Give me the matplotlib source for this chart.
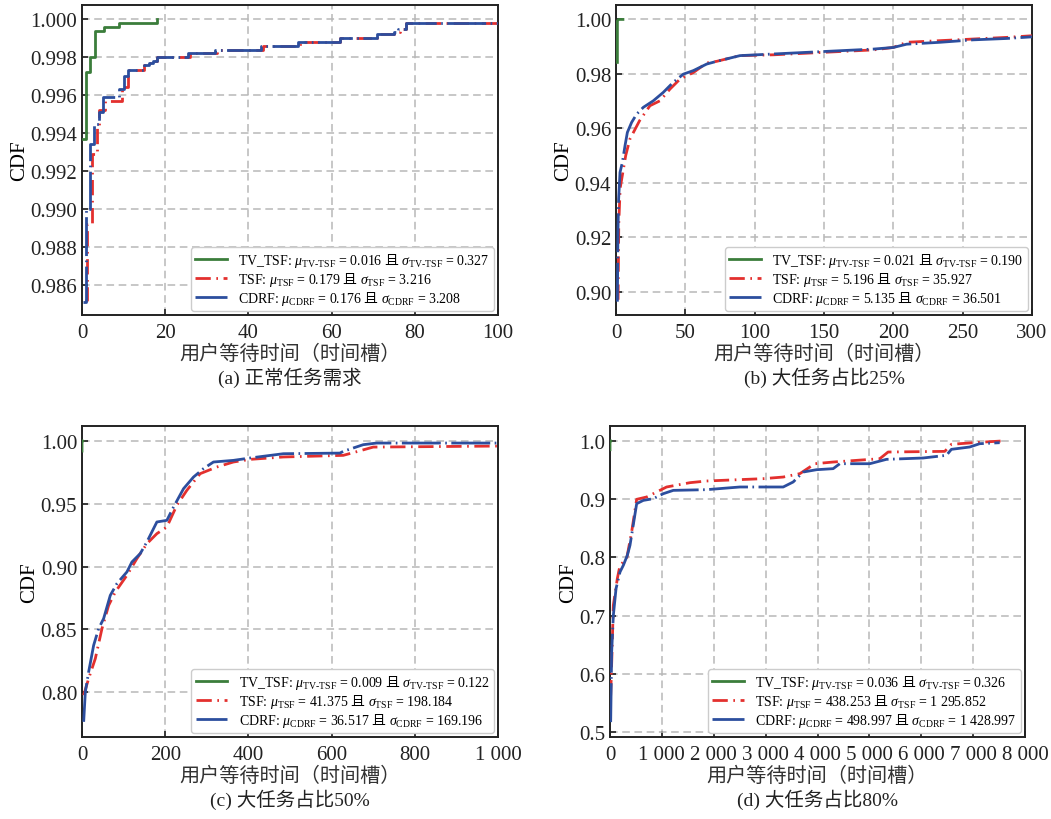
import matplotlib
matplotlib.use("Agg")
import matplotlib.pyplot as plt
from matplotlib.ticker import FuncFormatter

plt.rcParams['font.family'] = ['Liberation Serif', 'Noto Sans CJK SC']
# custom mathtext so the CJK conjunction can be typeset inside the legend labels
plt.rcParams['mathtext.fontset'] = 'custom'
plt.rcParams['mathtext.rm'] = 'Liberation Serif'
plt.rcParams['mathtext.it'] = 'Liberation Serif:italic'
plt.rcParams['mathtext.bf'] = 'Liberation Serif:bold'
plt.rcParams['mathtext.sf'] = 'Noto Sans CJK SC'
plt.rcParams['mathtext.fallback'] = 'stix'
plt.rcParams['axes.unicode_minus'] = False

GREEN = '#3b7d3b'
RED = '#e3302e'
BLUE = '#2c4e9e'

# (a) normal task demand -- step curves
a_tv_x = [0.2, 1, 2, 3.2, 5.2, 9, 18]
a_tv_y = [0.9937, 0.9972, 0.998, 0.9994, 0.9996, 0.9998, 1.0]
a_tsf_x = [0.7, 1.2, 2.5, 3.5, 4, 5.5, 9.5, 11, 15, 16, 17, 18, 26, 32.5, 43.5, 52.5, 62, 71, 75, 76.5, 78, 105]
a_tsf_y = [0.9852, 0.9892, 0.9929, 0.9944, 0.9952, 0.9957, 0.9964, 0.9973, 0.9976, 0.9977, 0.9978, 0.9980,
           0.9982, 0.9984, 0.9986, 0.9988, 0.9990, 0.9992, 0.9993, 0.9995, 0.9998, 0.9998]
a_cdrf_x = [0.3, 1, 2, 3, 4, 5, 9, 10, 11, 15, 16, 17, 18, 25.5, 32, 43, 52, 62, 71, 75, 76, 78, 105]
a_cdrf_y = [0.9851, 0.9900, 0.9934, 0.9945, 0.9951, 0.9959, 0.9963, 0.9970, 0.9973, 0.9976, 0.9977, 0.9978,
            0.9980, 0.9982, 0.9984, 0.9986, 0.9988, 0.9990, 0.9992, 0.9993, 0.9995, 0.9998, 0.9998]

# (b) 25% large tasks
b_tv_x = [1, 1, 2, 5]
b_tv_y = [0.9842, 0.9995, 1.0, 1.0]
b_tsf_x = [1.5, 2, 3, 5, 7, 10, 17, 24.5, 31.7, 38.9, 46.2, 55.8, 65.4, 72.6, 89.4, 113.5, 137.5, 161.5,
           185.6, 200, 209.6, 233.7, 257.7, 281.7, 300]
b_tsf_y = [0.897, 0.925, 0.938, 0.944, 0.950, 0.956, 0.9628, 0.9683, 0.9701, 0.9744, 0.9781, 0.9805, 0.9840,
           0.9846, 0.9867, 0.9870, 0.9876, 0.9882, 0.9888, 0.9897, 0.9916, 0.9922, 0.9928, 0.9934, 0.9940]
b_cdrf_x = [1, 1.4, 1.9, 2.9, 4.6, 6.5, 8.2, 11.3, 14.9, 19.7, 26.9, 34.1, 41.3, 48.6, 55.8, 65.4, 72.6,
            89.4, 113.5, 137.5, 161.5, 185.6, 200, 209.6, 233.7, 257.7, 281.7, 300]
b_cdrf_y = [0.8963, 0.9218, 0.934, 0.9438, 0.9475, 0.9536, 0.9585, 0.9622, 0.9652, 0.9677, 0.9701, 0.9732,
            0.9769, 0.9799, 0.9812, 0.9836, 0.9846, 0.9867, 0.9873, 0.9879, 0.9885, 0.9891, 0.9897, 0.9909,
            0.9916, 0.9925, 0.9930, 0.9936]

# (c) 50% large tasks
c_tv_x = [0, 0, 2]
c_tv_y = [0.992, 0.999, 1.0]
c_tsf_x = [4, 16, 32, 48, 64, 80, 108, 132, 156, 180, 204, 228, 252, 284, 324, 364, 404, 484, 628, 672,
           700, 1000]
c_tsf_y = [0.7974, 0.8107, 0.8266, 0.8505, 0.869, 0.8797, 0.893, 0.9063, 0.9182, 0.9262, 0.9315, 0.9488,
           0.9607, 0.974, 0.9793, 0.9833, 0.9854, 0.9873, 0.9886, 0.9926, 0.9952, 0.996]
c_cdrf_x = [4, 8, 16, 28, 40, 52, 68, 84, 108, 120, 140, 156, 180, 204, 220, 244, 268, 292, 316, 364, 404,
            484, 620, 628, 676, 708, 1000]
c_cdrf_y = [0.7762, 0.8001, 0.816, 0.8372, 0.8505, 0.8585, 0.877, 0.8864, 0.8957, 0.9036, 0.9103, 0.9196,
            0.9355, 0.9368, 0.9474, 0.962, 0.9713, 0.978, 0.9833, 0.9846, 0.9865, 0.9899, 0.9904, 0.9918,
            0.9971, 0.9984, 0.9984]

# (d) 80% large tasks
d_tv_x = [0, 0, 15]
d_tv_y = [0.985, 0.999, 1.0]
d_tsf_x = [13, 39, 64, 141, 193, 321, 417, 514, 706, 899, 1091, 1541, 1862, 2953, 3339, 3660, 3949, 4302,
           5201, 5361, 6453, 6581, 6998, 7544]
d_tsf_y = [0.563, 0.6375, 0.7176, 0.7635, 0.7864, 0.7978, 0.8436, 0.8998, 0.9038, 0.9124, 0.921, 0.9284,
           0.9313, 0.9353, 0.9381, 0.9439, 0.961, 0.9639, 0.9696, 0.9811, 0.9822, 0.9943, 0.9971, 1.0]
d_cdrf_x = [13, 32, 64, 116, 193, 257, 334, 385, 437, 514, 642, 835, 1027, 1220, 1862, 2504, 3339, 3531,
            3724, 3981, 4302, 4430, 5008, 5329, 6035, 6485, 6581, 6934, 7127, 7512]
d_cdrf_y = [0.517, 0.6375, 0.70, 0.7463, 0.775, 0.7864, 0.8036, 0.8207, 0.8494, 0.8923, 0.898, 0.9009,
            0.9095, 0.9152, 0.9164, 0.921, 0.921, 0.9296, 0.9467, 0.9507, 0.9525, 0.961, 0.961, 0.9685,
            0.9708, 0.9754, 0.9857, 0.9897, 0.9954, 0.9971]

# legend statistics (mu, sigma) per panel: TV_TSF, TSF, CDRF
stats = [
    [("0.016", "0.327"), ("0.179", "3.216"), ("0.176", "3.208")],
    [("0.021", "0.190"), ("5.196", "35.927"), ("5.135", "36.501")],
    [("0.009", "0.122"), ("41.375", "198.184"), ("36.517", "169.196")],
    [("0.036", "0.326"), ("438.253", "1 295.852"), ("498.997", "1 428.997")],
]
captions = ["(a) 正常任务需求", "(b) 大任务占比25%", "(c) 大任务占比50%", "(d) 大任务占比80%"]
xlabel = "用户等待时间（时间槽）"

xlims = [(0, 100), (0, 300), (0, 1000), (0, 8000)]
xticks = [[0, 20, 40, 60, 80, 100], [0, 50, 100, 150, 200, 250, 300],
          [0, 200, 400, 600, 800, 1000], list(range(0, 8001, 1000))]
ylims = [(0.9844, 1.00075), (0.8914, 1.0053), (0.7641, 1.012), (0.4914, 1.0258)]
yticks = [[0.986, 0.988, 0.990, 0.992, 0.994, 0.996, 0.998, 1.000],
          [0.90, 0.92, 0.94, 0.96, 0.98, 1.00],
          [0.80, 0.85, 0.90, 0.95, 1.00],
          [0.5, 0.6, 0.7, 0.8, 0.9, 1.0]]
ydec = [3, 2, 2, 1]

panels = [
    (a_tv_x, a_tv_y, a_tsf_x, a_tsf_y, a_cdrf_x, a_cdrf_y),
    (b_tv_x, b_tv_y, b_tsf_x, b_tsf_y, b_cdrf_x, b_cdrf_y),
    (c_tv_x, c_tv_y, c_tsf_x, c_tsf_y, c_cdrf_x, c_cdrf_y),
    (d_tv_x, d_tv_y, d_tsf_x, d_tsf_y, d_cdrf_x, d_cdrf_y),
]

W, H = 1051, 820
boxes = [(82, 6, 498, 316), (616, 6, 1032, 316), (82, 427, 498, 738), (610, 427, 1025, 738)]

fig = plt.figure(figsize=(W / 100, H / 100), dpi=100)


def thousands(v, pos=None):
    return f"{int(round(v)):,}".replace(",", " ")


def label(name, sub, mu, sig):
    return (r"%s: $\mu_{\mathrm{%s}}$ = %s $\mathsf{且}$ $\sigma_{\mathrm{%s}}$ = %s"
            % (name, sub, mu, sub, sig))


for i, (tvx, tvy, tx, ty, cx, cy) in enumerate(panels):
    l, t, r, b = boxes[i]
    ax = fig.add_axes([l / W, 1 - b / H, (r - l) / W, (b - t) / H])
    step = 'steps-post' if i == 0 else 'default'
    s = stats[i]
    ax.plot(tvx, tvy, color=GREEN, lw=2.0, drawstyle=step, zorder=3,
            label=label("TV_TSF", "TV\u2010TSF", *s[0]))
    ax.plot(tx, ty, color=RED, lw=2.0, drawstyle=step, dashes=(5.5, 2, 0.6, 2), zorder=3,
            label=label("TSF", "TSF", *s[1]))
    ax.plot(cx, cy, color=BLUE, lw=2.0, drawstyle=step, dashes=(14, 1.6, 0.6, 1.6), zorder=4,
            label=label("CDRF", "CDRF", *s[2]))

    ax.set_xlim(*xlims[i])
    ax.set_ylim(*ylims[i])
    ax.set_xticks(xticks[i])
    ax.set_yticks(yticks[i])
    ax.xaxis.set_major_formatter(FuncFormatter(thousands))
    d = ydec[i]
    ax.yaxis.set_major_formatter(FuncFormatter(lambda v, p, d=d: f"{v:.{d}f}"))
    ax.tick_params(direction='in', labelsize=15, length=4, width=1.2, colors='#222222')
    ax.tick_params(axis='x', pad=6)
    ax.grid(True, color='#b8b8b8', lw=1.1, dashes=(5, 3))
    ax.set_axisbelow(True)
    for sp in ax.spines.values():
        sp.set_linewidth(1.4)
        sp.set_color('#222222')

    ax.set_ylabel("CDF", fontsize=15, labelpad=1)
    ax.set_xlabel(xlabel, fontsize=14.5, labelpad=2, color='#333333')
    ax.text(0.5, -0.2, captions[i], transform=ax.transAxes, ha='center', va='center',
            fontsize=14, color='#222222')

    leg = ax.legend(loc='lower right', fontsize=10, handlelength=2.3, labelspacing=0.05,
                    borderaxespad=0.3, fancybox=True, framealpha=1.0, edgecolor='#cccccc',
                    borderpad=0.3)
    leg.get_frame().set_linewidth(1.0)

fig.savefig("out.png", dpi=100)
